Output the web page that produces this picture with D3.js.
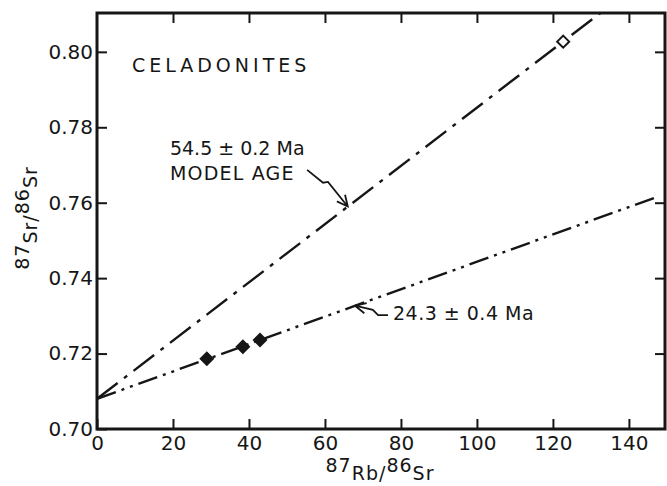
<!DOCTYPE html>
<html>
<head>
<meta charset="utf-8">
<script src="https://cdn.jsdelivr.net/npm/d3@7"></script>
<style>
  body { margin: 0; background: #fff; }
  svg { display: block; }
  text { font-family: "DejaVu Sans", sans-serif; fill: #161616; }
</style>
</head>
<body>
<div id="chart"></div>
<script>
// ticks
const xTicks = [0, 20, 40, 60, 80, 100, 120, 140];
const yTicks = [0.70, 0.72, 0.74, 0.76, 0.78, 0.80];

// celadonite samples (filled) and the open point
const sampleRb = [28.9, 38.4, 42.9];
const sampleSr = [0.7186, 0.7218, 0.7236];
const openRb = [122.7];
const openSr = [0.8027];

// model age line and isochron, start / end
const modelRb = [0, 132.5];
const modelSr = [0.708, 0.8103];
const isoRb = [0, 147];
const isoSr = [0.708, 0.7614];

const width = 667, height = 486;
const margin = { top: 13, right: 2, bottom: 57, left: 97 };

const x = d3.scaleLinear().domain([0, 149.5]).range([margin.left, width - margin.right]);
const y = d3.scaleLinear().domain([0.70, 0.8103]).range([height - margin.bottom, margin.top]);

const svg = d3.select("#chart").append("svg")
  .attr("width", width)
  .attr("height", height);

svg.append("defs").append("clipPath").attr("id", "plot")
  .append("rect")
  .attr("x", x(0)).attr("y", y.range()[1])
  .attr("width", x.range()[1] - x(0))
  .attr("height", y.range()[0] - y.range()[1]);

// axes, ticks point inward
const gx = svg.append("g")
  .attr("transform", `translate(0,${y(0.70)})`)
  .call(d3.axisBottom(x).tickValues(xTicks).tickSize(-10).tickPadding(7).tickSizeOuter(0));
const gxTop = svg.append("g")
  .attr("transform", `translate(0,${y.range()[1]})`)
  .call(d3.axisTop(x).tickValues(xTicks.slice(1)).tickSize(-10).tickFormat("").tickSizeOuter(0));
const gy = svg.append("g")
  .attr("transform", `translate(${x(0)},0)`)
  .call(d3.axisLeft(y).tickValues(yTicks).tickSize(-10).tickPadding(4).tickFormat(d3.format(".2f")).tickSizeOuter(0));
const gyRight = svg.append("g")
  .attr("transform", `translate(${x.range()[1]},0)`)
  .call(d3.axisRight(y).tickValues(yTicks.slice(1)).tickSize(-10).tickFormat("").tickSizeOuter(0));

[gx, gxTop, gy, gyRight].forEach(g => {
  g.select(".domain").remove();
  g.selectAll(".tick line").attr("stroke", "#161616").attr("stroke-width", 2);
  g.selectAll(".tick text")
    .attr("fill", "#161616")
    .style("font-size", "20px")
    .style("font-family", "DejaVu Sans, sans-serif");
});

svg.append("rect")
  .attr("x", x(0)).attr("y", y.range()[1])
  .attr("width", x.range()[1] - x(0))
  .attr("height", y.range()[0] - y.range()[1])
  .attr("fill", "none")
  .attr("stroke", "#161616")
  .attr("stroke-width", 3);

// lines
const line = d3.line().x(d => x(d[0])).y(d => y(d[1]));
const lines = svg.append("g").attr("clip-path", "url(#plot)");

lines.append("path")
  .attr("d", line(d3.zip(modelRb, modelSr)))
  .attr("fill", "none")
  .attr("stroke", "#161616")
  .attr("stroke-width", 2.4)
  .attr("stroke-dasharray", "26,8,4,8");

lines.append("path")
  .attr("d", line(d3.zip(isoRb, isoSr)))
  .attr("fill", "none")
  .attr("stroke", "#161616")
  .attr("stroke-width", 2.4)
  .attr("stroke-dasharray", "20,6,3,6,3,6");

// diamonds
const diamond = (cx, cy, r) => `M${cx},${cy - r}L${cx + r},${cy}L${cx},${cy + r}L${cx - r},${cy}Z`;

svg.append("g").selectAll("path")
  .data(d3.zip(sampleRb, sampleSr))
  .join("path")
  .attr("d", d => diamond(x(d[0]), y(d[1]), 7.5))
  .attr("fill", "#161616");

svg.append("g").selectAll("path")
  .data(d3.zip(openRb, openSr))
  .join("path")
  .attr("d", d => diamond(x(d[0]), y(d[1]), 6))
  .attr("fill", "#fff")
  .attr("stroke", "#161616")
  .attr("stroke-width", 2);

// annotations (data coordinates)
const notes = [
  { text: "CELADONITES", rb: 9.2, sr: 0.7947, spacing: 4 },
  { text: "54.5 \u00b1 0.2 Ma", rb: 19.2, sr: 0.7727, spacing: 0 },
  { text: "MODEL AGE", rb: 19.2, sr: 0.7660, spacing: 1.2 },
  { text: "24.3 \u00b1 0.4 Ma", rb: 77.9, sr: 0.7289, spacing: 0.5 }
];

svg.append("g").selectAll("text")
  .data(notes)
  .join("text")
  .attr("x", d => x(d.rb))
  .attr("y", d => y(d.sr))
  .style("font-size", "19px")
  .style("letter-spacing", d => d.spacing + "px")
  .text(d => d.text);

const arrows = [
  [[55.3, 0.7687], [59.5, 0.7653], [60.8, 0.7655], [66.0, 0.7590]],
  [[76.6, 0.7302], [74.0, 0.7302], [72.6, 0.7316], [67.9, 0.7327]]
];

arrows.forEach(pts => {
  const p = pts.map(d => [x(d[0]), y(d[1])]);
  const tip = p[p.length - 1], prev = p[p.length - 2];
  const ang = Math.atan2(tip[1] - prev[1], tip[0] - prev[0]);
  const len = 12, spread = 0.45;
  const head = [-spread, spread].map(a => [
    tip[0] - len * Math.cos(ang + a),
    tip[1] - len * Math.sin(ang + a)
  ]);
  svg.append("path")
    .attr("d", d3.line()(p) + `M${head[0]}L${tip}L${head[1]}`)
    .attr("fill", "none")
    .attr("stroke", "#161616")
    .attr("stroke-width", 1.8);
});

// axis titles
const xt = svg.append("text")
  .attr("x", 380)
  .attr("y", 480)
  .attr("text-anchor", "middle")
  .style("font-size", "19px")
  .style("letter-spacing", "1px");
xt.append("tspan").attr("dy", -8).text("87");
xt.append("tspan").attr("dy", 8).text("Rb/");
xt.append("tspan").attr("dy", -8).text("86");
xt.append("tspan").attr("dy", 8).text("Sr");

const yt = svg.append("text")
  .attr("transform", "translate(37,218) rotate(-90)")
  .attr("text-anchor", "middle")
  .style("font-size", "19px")
  .style("letter-spacing", "1px");
yt.append("tspan").attr("dy", -8).text("87");
yt.append("tspan").attr("dy", 8).text("Sr/");
yt.append("tspan").attr("dy", -8).text("86");
yt.append("tspan").attr("dy", 8).text("Sr");
</script>
</body>
</html>
